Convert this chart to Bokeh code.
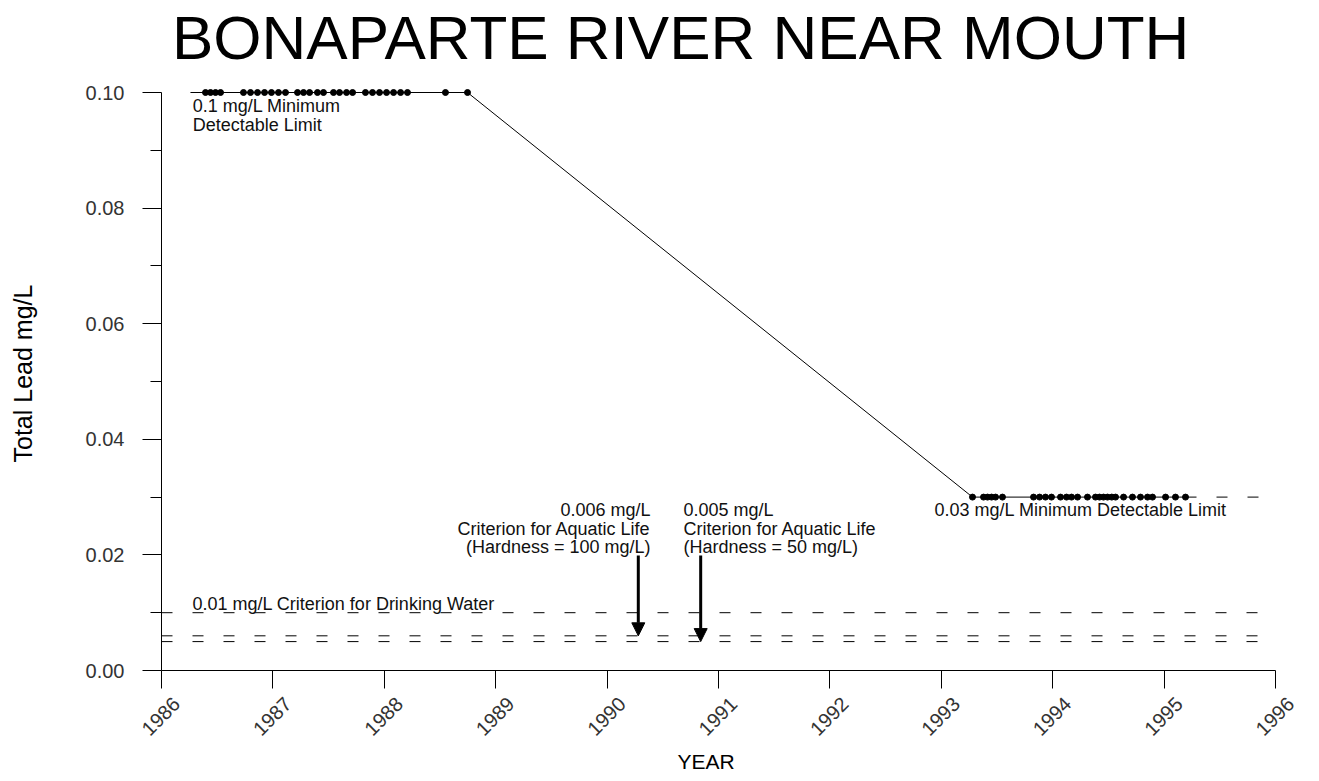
import math
from bokeh.plotting import figure
from bokeh.models import (FixedTicker, PrintfTickFormatter, Label, Arrow, LinearAxis,
                          NormalHead, ColumnDataSource, Range1d, Title)
from bokeh.embed import file_html
from bokeh.resources import INLINE

# ---------------- data ----------------
high_years = [1986.395, 1986.44, 1986.485, 1986.53, 1986.736, 1986.799, 1986.862,
              1986.925, 1986.987, 1987.05, 1987.113, 1987.221, 1987.275, 1987.329,
              1987.40, 1987.454, 1987.544, 1987.598, 1987.661, 1987.715, 1987.831,
              1987.894, 1987.957, 1988.02, 1988.083, 1988.146, 1988.208, 1988.549,
              1988.747]
high_lead = [0.10, 0.10, 0.10, 0.10, 0.10, 0.10, 0.10, 0.10, 0.10, 0.10, 0.10,
             0.10, 0.10, 0.10, 0.10, 0.10, 0.10, 0.10, 0.10, 0.10, 0.10, 0.10,
             0.10, 0.10, 0.10, 0.10, 0.10, 0.10, 0.10]
low_years = [1993.28, 1993.379, 1993.415, 1993.451, 1993.487, 1993.549, 1993.828,
             1993.882, 1993.935, 1993.989, 1994.07, 1994.124, 1994.169, 1994.223,
             1994.312, 1994.384, 1994.42, 1994.456, 1994.492, 1994.53, 1994.564,
             1994.636, 1994.716, 1994.788, 1994.851, 1994.896, 1995.013, 1995.102,
             1995.192]
low_lead = [0.03, 0.03, 0.03, 0.03, 0.03, 0.03, 0.03, 0.03, 0.03, 0.03, 0.03,
            0.03, 0.03, 0.03, 0.03, 0.03, 0.03, 0.03, 0.03, 0.03, 0.03, 0.03,
            0.03, 0.03, 0.03, 0.03, 0.03, 0.03, 0.03]

sample_year = high_years + low_years
sample_lead = high_lead + low_lead

criteria_levels = [0.01, 0.006, 0.005]          # drinking water, aquatic life x2
year_start = 1986
year_end = 1996
lead_min = 0.0
lead_max = 0.10
mdl_high = 0.10
mdl_high_start = 1986.26
mdl_low = 0.03

arrow_years = [1990.28, 1990.84]
arrow_top = 0.0199
arrow_levels = [0.006, 0.005]

x_ticks = [1986, 1987, 1988, 1989, 1990, 1991, 1992, 1993, 1994, 1995, 1996]
x_tick_labels = ["1986", "1987", "1988", "1989", "1990", "1991", "1992", "1993",
                 "1994", "1995", "1996"]
y_ticks = [0.0, 0.02, 0.04, 0.06, 0.08, 0.10]
y_minor = [0.01, 0.03, 0.05, 0.07, 0.09]

title_text = "BONAPARTE RIVER NEAR MOUTH"
FONT = "Liberation Sans"

# layout tweaks (pixels / offsets, not data)
Y_TOP = 0.11592      # frame extends above the axis so the title sits inside it
X_RIGHT = 1996.323   # frame extends right so the last rotated label fits
LABEL_SHIFT = 0.135  # centres rotated year labels under their ticks

# ---------------- figure ----------------
p = figure(width=1311, height=781, output_backend="svg", toolbar_location=None,
           x_range=Range1d(year_start, X_RIGHT), y_range=Range1d(lead_min, Y_TOP),
           min_border_left=161, min_border_right=0, min_border_top=0,
           min_border_bottom=111)
p.outline_line_color = None
p.xgrid.visible = False
p.ygrid.visible = False
p.background_fill_color = "white"

p.add_layout(Label(x=1990.66, y=0.10951, text=title_text, text_font=FONT,
                   text_font_size="62px", text_color="black", text_align="center",
                   text_baseline="alphabetic"))

# y axis
ya = p.yaxis[0]
ya.bounds = (lead_min, lead_max)
ya.ticker = FixedTicker(ticks=y_ticks, minor_ticks=y_minor)
ya.formatter = PrintfTickFormatter(format="%.2f")
ya.major_tick_out = 19
ya.major_tick_in = 0
ya.minor_tick_out = 11
ya.minor_tick_in = 0
ya.major_label_standoff = 18
ya.major_label_text_font = FONT
ya.major_label_text_font_size = "20px"
ya.major_label_text_color = "#333333"
ya.axis_line_color = "black"
ya.major_tick_line_color = "black"
ya.minor_tick_line_color = "black"

# invisible spacer axis (one hidden tick), then the y-axis title placed with an offset
spacer = LinearAxis(ticker=FixedTicker(ticks=[0.05], minor_ticks=[]),
                    major_label_overrides={0.05: ""},
                    axis_line_color=None, major_tick_line_color=None,
                    minor_tick_line_color=None, major_tick_out=45, major_tick_in=0,
                    minor_tick_out=0, minor_tick_in=0, major_label_standoff=0)
p.add_layout(spacer, "left")
p.add_layout(Title(text="Total Lead mg/L", align="left", offset=208,
                   vertical_align="middle", standoff=0, text_font=FONT,
                   text_font_size="25px", text_font_style="normal",
                   text_color="black"), "left")

# x axis: line + ticks
xa = p.xaxis[0]
xa.bounds = (year_start, year_end)
xa.ticker = FixedTicker(ticks=x_ticks, minor_ticks=[])
xa.major_label_overrides = {t: "" for t in x_ticks}
xa.major_label_standoff = 0
xa.major_tick_out = 18
xa.major_tick_in = 0
xa.minor_tick_out = 0
xa.axis_line_color = "black"
xa.major_tick_line_color = "black"

# second axis below carrying the rotated year labels
lab_ticks = [t + LABEL_SHIFT for t in x_ticks]
xl = LinearAxis(ticker=FixedTicker(ticks=lab_ticks, minor_ticks=[]),
                major_label_overrides={lt: s for lt, s in zip(lab_ticks, x_tick_labels)},
                axis_line_color=None, major_tick_line_color=None, minor_tick_line_color=None,
                major_tick_out=0, major_tick_in=0, minor_tick_out=0, minor_tick_in=0,
                major_label_orientation=math.pi / 4, major_label_standoff=12,
                major_label_text_font=FONT, major_label_text_font_size="20px",
                major_label_text_color="#333333")
p.add_layout(xl, "below")

p.add_layout(Title(text="YEAR", align="left", offset=516, vertical_align="top",
                   standoff=10, text_font=FONT, text_font_size="21px",
                   text_font_style="normal", text_color="black"), "below")

# criterion lines (dashed)
n = len(criteria_levels)
p.segment(x0=[year_start] * n, x1=[year_end] * n, y0=criteria_levels, y1=criteria_levels,
          line_color="black", line_width=1, line_dash="11 20")

# MDL lines
p.line([mdl_high_start, high_years[0]], [mdl_high, mdl_high], line_color="black", line_width=1)
p.line([low_years[-1], year_end], [mdl_low, mdl_low], line_color="black",
       line_width=1, line_dash="11 20")

# samples
src = ColumnDataSource(dict(year=sample_year, lead=sample_lead))
p.line("year", "lead", source=src, line_color="black", line_width=1)
p.scatter("year", "lead", source=src, size=6, fill_color="black", line_color="black")

# arrows
for ax_, lvl in zip(arrow_years, arrow_levels):
    p.add_layout(Arrow(end=NormalHead(size=13, fill_color="black", line_color="black"),
                       x_start=ax_, y_start=arrow_top, x_end=ax_, y_end=lvl,
                       line_color="black", line_width=3))

def lab(x, y, text, align="left"):
    p.add_layout(Label(x=x, y=y, text=text, text_font=FONT, text_font_size="18px",
                       text_color="#111111", text_align=align,
                       text_baseline="alphabetic"))

lab(1986.28, 0.09766, "0.1 mg/L Minimum")
lab(1986.28, 0.09438, "Detectable Limit")
lab(1992.939, 0.02777, "0.03 mg/L Minimum Detectable Limit")
lab(1986.278, 0.0115, "0.01 mg/L Criterion for Drinking Water")
lab(1990.39, 0.02777, "0.006 mg/L", "right")
lab(1990.39, 0.02448, "Criterion for Aquatic Life", "right")
lab(1990.39, 0.02137, "(Hardness = 100 mg/L)", "right")
lab(1990.686, 0.02777, "0.005 mg/L")
lab(1990.686, 0.02448, "Criterion for Aquatic Life")
lab(1990.686, 0.02137, "(Hardness = 50 mg/L)")

open("out.html", "w").write(file_html(p, INLINE))
